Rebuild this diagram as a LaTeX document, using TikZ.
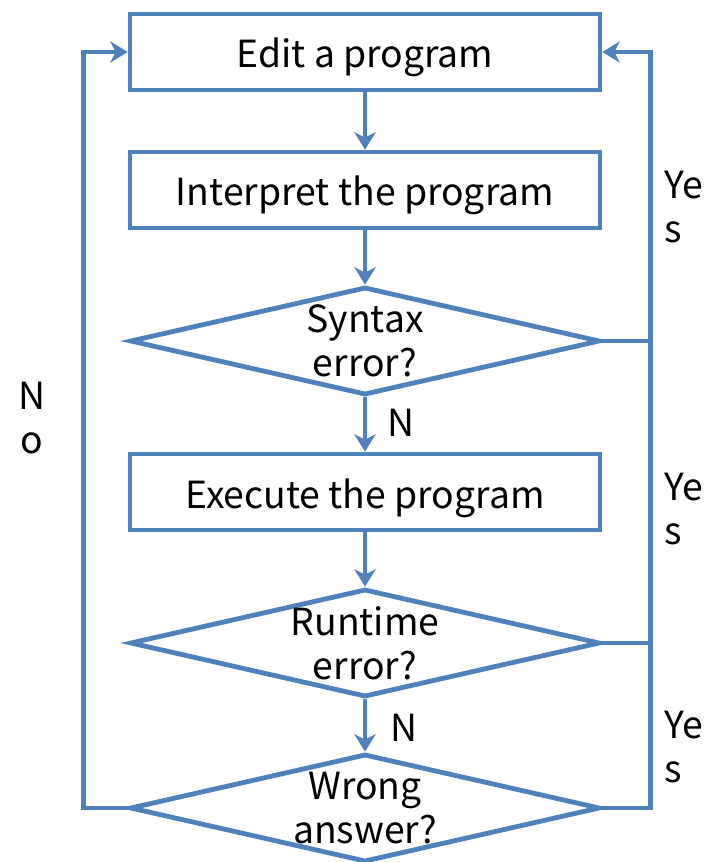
\documentclass[tikz,border=0pt]{standalone}
\usepackage{fontspec}
\setmainfont{Noto Sans CJK SC}
\usetikzlibrary{arrows.meta,shapes.geometric}
\definecolor{flowblue}{HTML}{4F81BD}
\tikzset{
  stepbox/.style={draw=flowblue,line width=3.6pt,minimum width=352.5pt,minimum height=57pt,inner sep=0pt,text height=24pt,text depth=0pt},
  decision/.style={draw=flowblue,line width=3.6pt,diamond,minimum width=352.5pt,minimum height=81pt,inner sep=0pt},
  flow/.style={draw=flowblue,line width=3.6pt,-{Stealth[length=13pt,width=16pt,inset=4pt]}},
  plain/.style={draw=flowblue,line width=3.6pt},
  mark text/.style={align=left,inner sep=0pt}
}
\begin{document}
\begin{tikzpicture}[x=0.75pt,y=-0.75pt,font=\fontsize{28}{33}\selectfont]
\useasboundingbox (0,0) rectangle (706,862);
% boxes
\node[stepbox] (edit) at (365,52){Edit a program};
\node[stepbox] (interp) at (365,190){Interpret the program};
\node[decision,label={[align=center,inner sep=0pt]center:Syntax\\error?}] (syntax) at (365,341){};
\node[stepbox] (exec) at (365,492){Execute the program};
\node[decision,label={[align=center,inner sep=0pt]center:Runtime\\error?}] (runtime) at (365,643){};
\node[decision,label={[align=center,inner sep=0pt]center:Wrong\\answer?}] (wrong) at (365,808){};
% straight flow
\draw[flow] (edit) -- (interp);
\draw[flow] (interp) -- (syntax);
\draw[flow] (syntax) -- (exec);
\draw[flow] (exec) -- (runtime);
\draw[flow] (runtime) -- (wrong);
\node[mark text] (n1) at (401,423){N};
\node[mark text] (n2) at (404,728){N};
% yes loop
\draw[flow] (wrong.east) -- ++(48,0) |- (edit.east);
\draw[plain] (syntax.east) -- ++(48,0);
\draw[plain] (runtime.east) -- ++(48,0);
\node[mark text,anchor=west] (y1) at (664,207){Ye\\s};
\node[mark text,anchor=west] (y2) at (664,509){Ye\\s};
\node[mark text,anchor=west] (y3) at (664,747){Ye\\s};
% no loop
\draw[flow] (wrong.west) -- ++(-44,0) |- (edit.west);
\node[align=center,inner sep=0pt] (no) at (32,418){N\\o};
\end{tikzpicture}
\end{document}
